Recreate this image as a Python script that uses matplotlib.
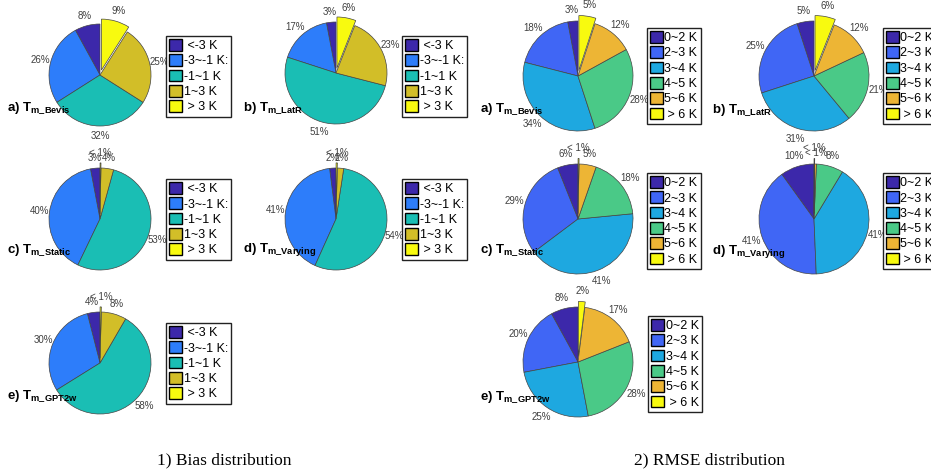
import matplotlib.pyplot as plt
from matplotlib.patches import Patch

plt.rcParams['font.family'] = ['Liberation Sans', 'DejaVu Sans']
plt.rcParams['mathtext.fontset'] = 'custom'
plt.rcParams['mathtext.bf'] = 'Liberation Sans:bold'
plt.rcParams['mathtext.rm'] = 'Liberation Sans'

# bias classes
bias_labels = [' <-3 K', '-3~-1 K:', '-1~1 K', '1~3 K', ' > 3 K']
bias_colors = ['#3C28AA', '#2D7DFA', '#1ABEB4', '#D2BE28', '#F8FA0F']
bias_bevis = [8, 26, 32, 25, 9]
bias_latr = [3, 17, 51, 23, 6]
bias_static = [3, 40, 53, 4, 0.3]
bias_varying = [2, 41, 54, 2, 0.4]
bias_gpt2w = [4, 30, 58, 8, 0.4]

# rmse classes
rmse_labels = ['0~2 K', '2~3 K', '3~4 K', '4~5 K', '5~6 K', ' > 6 K']
rmse_colors = ['#3C28AA', '#4066F5', '#1EA8E0', '#4AC987', '#EDB535', '#F8FA0F']
rmse_bevis = [3, 18, 34, 28, 12, 5]
rmse_latr = [5, 25, 31, 21, 12, 6]
rmse_static = [6, 29, 41, 18, 5, 0.3]
rmse_varying = [10, 41, 41, 8, 0.5, 0.2]
rmse_gpt2w = [8, 20, 25, 28, 17, 2]

W, H = 931, 476
fig = plt.figure(figsize=(W / 100, H / 100), dpi=100)


def fx(x):
    return x / W


def fy(y):
    return 1 - y / H


def pct(p):
    if p < 1:
        return '< 1%'
    return '%.0f%%' % p


def draw_pie(vals, colors, names, cx, cy, r, leg_xy, tag, sub, tag_xy):
    k = 1.5
    ax = fig.add_axes([fx(cx - k * r), fy(cy + k * r), 2 * k * r / W, 2 * k * r / H])
    explode = [0] * (len(vals) - 1) + [0.1]
    wedges, _, autotexts = ax.pie(vals, colors=colors, explode=explode, startangle=90,
                                  counterclock=True, radius=1, autopct=pct, pctdistance=1.2,
                                  wedgeprops=dict(edgecolor='#444444', linewidth=0.5),
                                  textprops=dict(fontsize=7, color='#404040'))
    for w in wedges:
        w.set_clip_on(False)
    for t in autotexts:
        t.set_clip_on(False)
    ax.set_xlim(-k, k)
    ax.set_ylim(-k, k)
    ax.set_axis_off()

    handles = [Patch(facecolor=c, edgecolor='black', linewidth=1) for c in colors]
    fig.legend(handles, names, loc='upper left', bbox_to_anchor=(fx(leg_xy[0]), fy(leg_xy[1])),
               fontsize=9, frameon=True, fancybox=False, edgecolor='#222222', framealpha=1,
               handlelength=1.05, handleheight=1.05, handletextpad=0.1, labelspacing=0.18,
               borderpad=0.25, borderaxespad=0)

    fig.text(fx(tag_xy[0]), fy(tag_xy[1]), tag + r' T$_{\mathbf{' + sub + '}}$',
             fontsize=9.5, fontweight='bold', va='center', ha='left')


draw_pie(bias_bevis, bias_colors, bias_labels, 100, 75, 51, (166, 36), 'a)', r'm\_Bevis', (7, 108))
draw_pie(bias_latr, bias_colors, bias_labels, 336, 73, 51, (402, 36), 'b)', r'm\_LatR', (243, 108))
draw_pie(bias_static, bias_colors, bias_labels, 100, 219, 51, (166, 179), 'c)', r'm\_Static', (7, 250))
draw_pie(bias_varying, bias_colors, bias_labels, 336, 219, 51, (402, 179), 'd)', r'm\_Varying', (243, 250))
draw_pie(bias_gpt2w, bias_colors, bias_labels, 100, 363, 51, (166, 323), 'e)', r'm\_GPT2w', (7, 396))

draw_pie(rmse_bevis, rmse_colors, rmse_labels, 578, 76, 55, (647, 28), 'a)', r'm\_Bevis', (480, 109))
draw_pie(rmse_latr, rmse_colors, rmse_labels, 814, 76, 55, (883, 28), 'b)', r'm\_LatR', (712, 110))
draw_pie(rmse_static, rmse_colors, rmse_labels, 578, 219, 55, (647, 173), 'c)', r'm\_Static', (480, 250))
draw_pie(rmse_varying, rmse_colors, rmse_labels, 814, 219, 55, (883, 173), 'd)', r'm\_Varying', (712, 252))
draw_pie(rmse_gpt2w, rmse_colors, rmse_labels, 578, 362, 55, (648, 316), 'e)', r'm\_GPT2w', (480, 397))

fig.text(fx(224), fy(460), '1) Bias distribution', family='Liberation Serif', fontsize=12.5,
         ha='center', va='center')
fig.text(fx(710), fy(460), '2) RMSE distribution', family='Liberation Serif', fontsize=12.5,
         ha='center', va='center')

fig.savefig('out.png', dpi=100)
